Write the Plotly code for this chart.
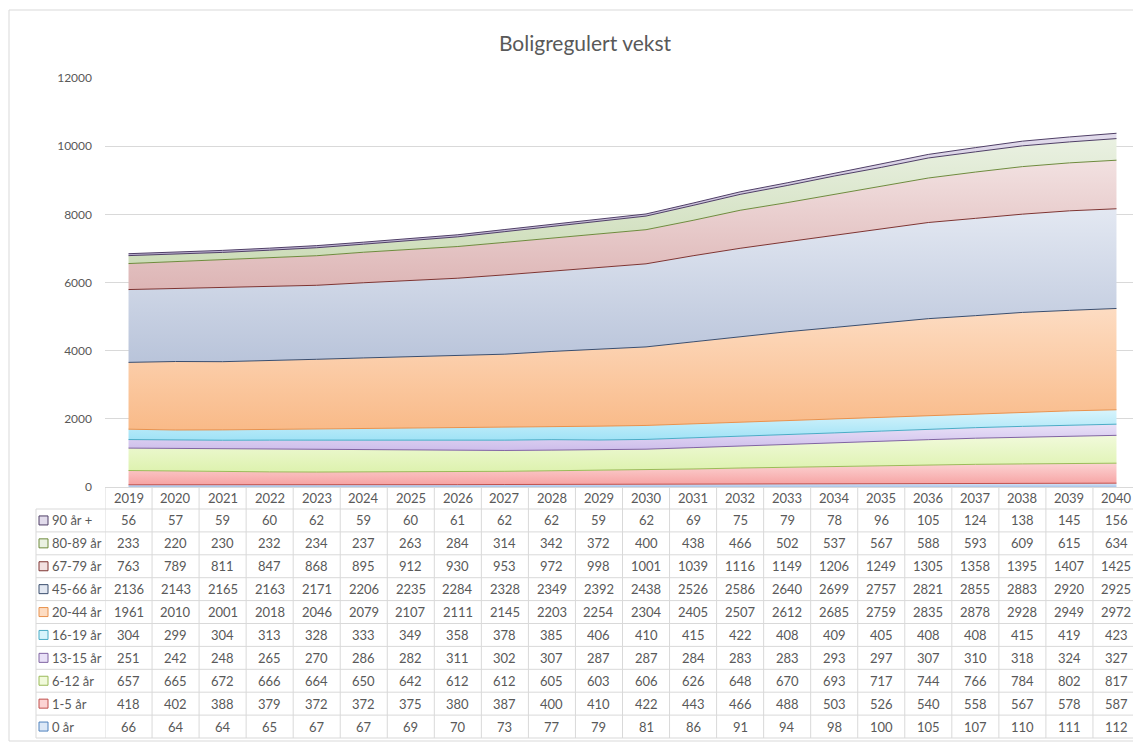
import plotly.graph_objects as go

years = list(range(2019, 2041))

labels = ["0 år", "1-5 år", "6-12 år", "13-15 år", "16-19 år", "20-44 år",
          "45-66 år", "67-79 år", "80-89 år", "90 år +"]

v_0 = [66, 64, 64, 65, 67, 67, 69, 70, 73, 77, 79, 81, 86, 91, 94, 98, 100, 105, 107, 110, 111, 112]
v_1_5 = [418, 402, 388, 379, 372, 372, 375, 380, 387, 400, 410, 422, 443, 466, 488, 503, 526, 540, 558, 567, 578, 587]
v_6_12 = [657, 665, 672, 666, 664, 650, 642, 612, 612, 605, 603, 606, 626, 648, 670, 693, 717, 744, 766, 784, 802, 817]
v_13_15 = [251, 242, 248, 265, 270, 286, 282, 311, 302, 307, 287, 287, 284, 283, 283, 293, 297, 307, 310, 318, 324, 327]
v_16_19 = [304, 299, 304, 313, 328, 333, 349, 358, 378, 385, 406, 410, 415, 422, 408, 409, 405, 408, 408, 415, 419, 423]
v_20_44 = [1961, 2010, 2001, 2018, 2046, 2079, 2107, 2111, 2145, 2203, 2254, 2304, 2405, 2507, 2612, 2685, 2759, 2835, 2878, 2928, 2949, 2972]
v_45_66 = [2136, 2143, 2165, 2163, 2171, 2206, 2235, 2284, 2328, 2349, 2392, 2438, 2526, 2586, 2640, 2699, 2757, 2821, 2855, 2883, 2920, 2925]
v_67_79 = [763, 789, 811, 847, 868, 895, 912, 930, 953, 972, 998, 1001, 1039, 1116, 1149, 1206, 1249, 1305, 1358, 1395, 1407, 1425]
v_80_89 = [233, 220, 230, 232, 234, 237, 263, 284, 314, 342, 372, 400, 438, 466, 502, 537, 567, 588, 593, 609, 615, 634]
v_90 = [56, 57, 59, 60, 62, 59, 60, 61, 62, 62, 59, 62, 69, 75, 79, 78, 96, 105, 124, 138, 145, 156]

series = [v_0, v_1_5, v_6_12, v_13_15, v_16_19, v_20_44, v_45_66, v_67_79, v_80_89, v_90]

# (fill bottom, fill top, border)
colors = [
    ("#A9C4E8", "#DCE8F7", "#4F81BD"),
    ("#F6A3A3", "#FCD3D3", "#C0504D"),
    ("#DDF2AE", "#F1FADB", "#9BBB59"),
    ("#CDBDEB", "#E9E1F7", "#8064A2"),
    ("#9FE2F6", "#D8F4FC", "#4BACC6"),
    ("#F9BA88", "#FDDCC2", "#E8924E"),
    ("#B9C4DA", "#E3E8F2", "#3B4E6E"),
    ("#DDB5B5", "#F2E1E1", "#7E3432"),
    ("#CCDCB8", "#EAF1E2", "#6E8B3D"),
    ("#BDB2D2", "#E2DCEC", "#4F3F66"),
]

FONT = "Lato, 'Open Sans', sans-serif"
TXT = "#595959"

fig = go.Figure()
n = len(series)
for i, (lab, vals, (c0, c1, lc)) in enumerate(zip(labels, series, colors)):
    # the boundary above a band is drawn in the border colour of the band above it
    edge = colors[i + 1][2] if i + 1 < n else lc
    fig.add_trace(go.Scatter(
        x=years, y=vals, name=lab, mode="lines", stackgroup="one",
        line=dict(color=edge, width=1),
        fillgradient=dict(type="vertical", colorscale=[[0, c0], [1, c1]]),
        hoverinfo="x+y+name",
    ))

# page body has an 8px margin: work in screen pixels, shifted by OFF
OFF = 8
FW, FH = 1141 - OFF, 742 - OFF
L, R, T, B = 105 - OFF, 1140 - OFF, 78 - OFF, 487 - OFF
W, H = R - L, B - T
def px(x):
    return (x - OFF - L) / W
def py(y):
    return (B - (y - OFF)) / H

GRID = "#D9D9D9"
shapes = []
annotations = []

# outer chart frame
shapes.append(dict(type="rect", xref="paper", yref="paper",
                   x0=px(9), x1=px(1140), y0=py(741), y1=py(10),
                   line=dict(color=GRID, width=1), fillcolor="rgba(0,0,0,0)", layer="below"))

# table geometry (screen pixels)
header_top, rows_top, row_h = 487, 509, 22.9
n_rows = len(labels)
table_bottom = rows_top + row_h * n_rows

for k in range(n_rows + 1):
    yy = rows_top + row_h * k
    shapes.append(dict(type="line", xref="paper", yref="paper",
                       x0=px(36), x1=px(1140), y0=py(yy), y1=py(yy),
                       line=dict(color=GRID, width=1)))
for k in range(len(years) + 1):
    xx = years[0] - 0.5 + k
    shapes.append(dict(type="line", xref="x", yref="paper",
                       x0=xx, x1=xx, y0=py(table_bottom), y1=py(header_top),
                       line=dict(color=GRID, width=1)))
shapes.append(dict(type="line", xref="paper", yref="paper",
                   x0=px(36), x1=px(36), y0=py(table_bottom), y1=py(rows_top),
                   line=dict(color=GRID, width=1)))

for yr in years:
    annotations.append(dict(x=yr, y=py(498), xref="x", yref="paper", text=str(yr),
                            showarrow=False, font=dict(family=FONT, size=13, color=TXT),
                            xanchor="center", yanchor="middle"))

for r in range(n_rows):
    idx = n_rows - 1 - r
    yc = rows_top + row_h * (r + 0.5)
    c0, c1, lc = colors[idx]
    shapes.append(dict(type="rect", xref="paper", yref="paper",
                       x0=px(39), x1=px(48), y0=py(yc + 4.5), y1=py(yc - 4.5),
                       fillcolor=c1, line=dict(color=lc, width=1)))
    annotations.append(dict(x=px(50), y=py(yc), xref="paper", yref="paper", text=labels[idx],
                            showarrow=False, font=dict(family=FONT, size=13, color=TXT),
                            xanchor="left", yanchor="middle"))
    for yr, v in zip(years, series[idx]):
        annotations.append(dict(x=yr, y=py(yc), xref="x", yref="paper", text=str(v),
                                showarrow=False, font=dict(family=FONT, size=13, color=TXT),
                                xanchor="center", yanchor="middle"))

fig.update_layout(
    width=FW, height=FH,
    margin=dict(l=L, r=FW - R, t=T, b=FH - B, autoexpand=False),
    paper_bgcolor="white", plot_bgcolor="white",
    showlegend=False,
    title=dict(text="Boligregulert vekst", xref="container", x=(585 - OFF) / FW,
               y=1 - (44 - OFF) / FH, xanchor="center", yanchor="middle",
               font=dict(family=FONT, size=21, color=TXT)),
    xaxis=dict(range=[years[0] - 0.5, years[-1] + 0.5], showticklabels=False,
               showgrid=False, zeroline=False, showline=True, linecolor=GRID, ticks=""),
    yaxis=dict(range=[0, 12000], dtick=2000, showgrid=True, gridcolor=GRID,
               zeroline=False, showline=False, ticks="", tickformat="d",
               tickfont=dict(family=FONT, size=12, color=TXT), ticklabelstandoff=12),
    shapes=shapes, annotations=annotations,
    font=dict(family=FONT, color=TXT),
)

fig.write_html("out.html")
